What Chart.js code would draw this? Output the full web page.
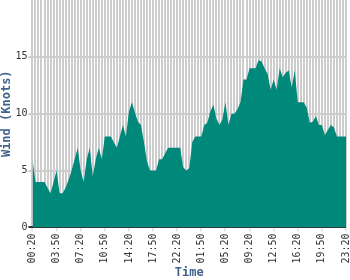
<!DOCTYPE html>
<html>
<head>
<meta charset="utf-8">
<script src="https://cdn.jsdelivr.net/npm/chart.js@4/dist/chart.umd.min.js"></script>
<style>
html,body{margin:0;padding:0;background:#fff;}
#wrap{width:350px;height:280px;}
</style>
</head>
<body>
<div id="wrap"><canvas id="c"></canvas></div>
<script>
const tickLabels = ['00:20','03:50','07:20','10:50','14:20','17:50','22:20','01:50','05:20','09:20','12:50','16:20','19:50','23:20'];
const pointsPerTick = 8;
const windKnots = [
  6,4,4,4,4,3.5,3,4,5,3,
  3,3.5,4.2,5,6,7,5,4,6,7,
  4.5,6,7,6,8,8,8,7.5,7,8,
  9,8,10.2,11,10.1,9.3,9,7.5,5.8,5,
  5,5,6,6,6.5,7,7,7,7,7,
  5.3,5,5.2,7.5,8,8,8,9,9.2,10.2,
  10.8,9.6,9,9.5,11,9,10,10,10.4,11,
  13,13,14,14,14,14.7,14.6,14,13.5,12.1,
  13,12.1,14,13.2,13.6,13.8,12.3,13.8,11,11,
  11,10.5,9.2,9.3,9.8,9,9,8.1,8.6,9,
  8.8,8,8,8,8
];
const yTicks = [0, 5, 10, 15];
const categories = windKnots.map((v, i) => (i % pointsPerTick === 0 ? tickLabels[i / pointsPerTick] : ''));

const mono = 'DejaVu Sans Mono';
const titleColor = '#41638c';

new Chart(document.getElementById('c'), {
  type: 'line',
  data: {
    labels: categories,
    datasets: [{
      data: windKnots,
      fill: 'origin',
      backgroundColor: '#00897b',
      borderColor: '#00897b',
      borderWidth: 0,
      pointRadius: 0,
      tension: 0
    }]
  },
  options: {
    responsive: true,
    maintainAspectRatio: false,
    animation: false,
    layout: { padding: { top: 0, right: 0, bottom: 0, left: 0 } },
    plugins: { legend: { display: false }, tooltip: { enabled: false } },
    scales: {
      x: {
        type: 'category',
        offset: false,
        border: { display: false },
        afterFit: (scale) => { scale.paddingRight = 4; scale.paddingLeft = 0; },
        grid: {
          color: '#cccccc',
          lineWidth: 2,
          drawTicks: true,
          tickLength: 4,
          tickColor: (ctx) => (ctx.index % pointsPerTick === 0 ? '#cccccc' : 'rgba(0,0,0,0)'),
          tickWidth: 1
        },
        ticks: {
          autoSkip: false,
          minRotation: 90,
          maxRotation: 90,
          padding: 2,
          color: '#333',
          font: { family: mono, size: 10 }
        },
        title: {
          display: true,
          text: 'Time',
          color: titleColor,
          font: { family: mono, size: 12, weight: 'bold' },
          padding: { top: 0, bottom: 0 }
        }
      },
      y: {
        min: 0,
        max: 20,
        border: { display: false },
        afterBuildTicks: (scale) => { scale.ticks = yTicks.map(v => ({ value: v })); },
        afterFit: (scale) => { scale.paddingTop = 0; },
        grid: {
          color: (ctx) => (ctx.tick && ctx.tick.value === 0 ? '#333' : '#cccccc'),
          lineWidth: 2,
          tickLength: 4
        },
        ticks: {
          padding: 1,
          color: '#333',
          font: { family: mono, size: 10 }
        },
        title: {
          display: true,
          text: 'Wind (Knots)',
          color: titleColor,
          font: { family: mono, size: 12, weight: 'bold' },
          padding: { top: 0, bottom: 0 }
        }
      }
    }
  }
});
</script>
</body>
</html>
